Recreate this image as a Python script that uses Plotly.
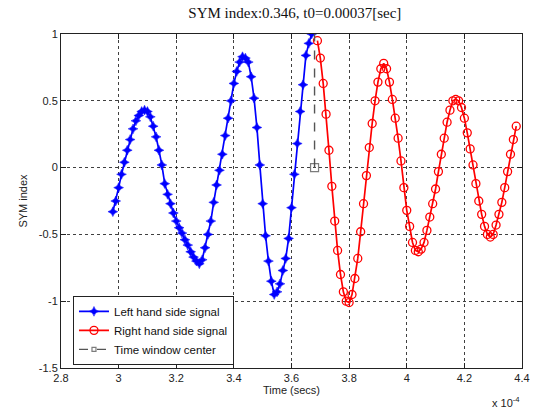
import plotly.graph_objects as go

# Time axis in units of 1e-4 s
left_t = [2.98, 2.99, 3.00, 3.01, 3.02, 3.03, 3.04, 3.05, 3.06, 3.07,
          3.08, 3.09, 3.10, 3.11, 3.12, 3.13, 3.14, 3.15, 3.16, 3.17,
          3.18, 3.19, 3.20, 3.21, 3.22, 3.23, 3.24, 3.25, 3.26, 3.27,
          3.28, 3.29, 3.30, 3.31, 3.32, 3.33, 3.34, 3.35, 3.36, 3.37,
          3.38, 3.39, 3.40, 3.41, 3.42, 3.43, 3.44, 3.45, 3.46, 3.47,
          3.48, 3.49, 3.50, 3.51, 3.52, 3.53, 3.54, 3.55, 3.56, 3.57,
          3.58, 3.59, 3.60, 3.61, 3.62, 3.63, 3.64, 3.65, 3.66, 3.67]
left_y = [-0.33, -0.25, -0.15, -0.05, 0.04, 0.13, 0.21, 0.29, 0.35, 0.39,
          0.42, 0.43, 0.42, 0.38, 0.31, 0.23, 0.13, 0.02, -0.12, -0.20,
          -0.27, -0.34, -0.40, -0.45, -0.49, -0.54, -0.58, -0.63, -0.67, -0.70,
          -0.72, -0.69, -0.60, -0.50, -0.40, -0.26, -0.13, -0.02, 0.10, 0.24,
          0.37, 0.50, 0.63, 0.72, 0.79, 0.83, 0.82, 0.79, 0.68, 0.52,
          0.30, 0.02, -0.27, -0.51, -0.70, -0.85, -0.95, -0.93, -0.87, -0.77,
          -0.68, -0.53, -0.30, -0.05, 0.18, 0.42, 0.62, 0.84, 0.93, 1.00]

right_t = [3.69, 3.70, 3.71, 3.72, 3.73, 3.74, 3.75, 3.76, 3.77, 3.78,
           3.79, 3.80, 3.81, 3.82, 3.83, 3.84, 3.85, 3.86, 3.87, 3.88,
           3.89, 3.90, 3.91, 3.92, 3.93, 3.94, 3.95, 3.96, 3.97, 3.98,
           3.99, 4.00, 4.01, 4.02, 4.03, 4.04, 4.05, 4.06, 4.07, 4.08,
           4.09, 4.10, 4.11, 4.12, 4.13, 4.14, 4.15, 4.16, 4.17, 4.18,
           4.19, 4.20, 4.21, 4.22, 4.23, 4.24, 4.25, 4.26, 4.27, 4.28,
           4.29, 4.30, 4.31, 4.32, 4.33, 4.34, 4.35, 4.36, 4.37, 4.38]
right_y = [0.95, 0.82, 0.63, 0.40, 0.13, -0.14, -0.40, -0.62, -0.80, -0.93,
           -1.00, -1.01, -0.95, -0.83, -0.68, -0.48, -0.27, -0.06, 0.15, 0.33,
           0.50, 0.64, 0.74, 0.78, 0.74, 0.64, 0.51, 0.37, 0.22, 0.05,
           -0.15, -0.32, -0.44, -0.56, -0.62, -0.63, -0.61, -0.56, -0.47, -0.37,
           -0.27, -0.16, -0.03, 0.10, 0.22, 0.34, 0.43, 0.50, 0.51, 0.50,
           0.45, 0.37, 0.26, 0.14, 0.02, -0.12, -0.25, -0.35, -0.44, -0.50,
           -0.52, -0.50, -0.43, -0.35, -0.26, -0.15, -0.03, 0.10, 0.21, 0.31]

center_t = [3.68, 3.68]
center_y = [0.0, 1.0]

x_ticks = [2.8, 3.0, 3.2, 3.4, 3.6, 3.8, 4.0, 4.2, 4.4]
x_tick_labels = ["2.8", "3", "3.2", "3.4", "3.6", "3.8", "4", "4.2", "4.4"]
y_ticks = [-1.5, -1, -0.5, 0, 0.5, 1]
y_tick_labels = ["-1.5", "-1", "-0.5", "0", "0.5", "1"]

title_text = "SYM index:0.346, t0=0.00037[sec]"

fig = go.Figure()
fig.add_trace(go.Scatter(
    x=left_t, y=left_y, mode="lines+markers", name="Left hand side signal",
    line=dict(color="#0000FF", width=1.7),
    marker=dict(symbol="star-diamond", size=7, color="#0000FF",
                line=dict(color="#0000FF", width=0.5))))
fig.add_trace(go.Scatter(
    x=right_t, y=right_y, mode="lines+markers", name="Right hand side signal",
    line=dict(color="#FF0000", width=1.7),
    marker=dict(symbol="circle-open", size=8, color="#FF0000",
                line=dict(color="#FF0000", width=1.3))))
fig.add_trace(go.Scatter(
    x=center_t, y=center_y, mode="lines+markers", name="Time window center",
    line=dict(color="#555555", width=1.4, dash="dash"),
    marker=dict(symbol="square-open", size=[8, 0], color="#444444",
                line=dict(color="#444444", width=1.2))))

axis_common = dict(
    showline=True, linecolor="#222222", linewidth=1, mirror="ticks",
    ticks="inside", ticklen=5, tickcolor="#222222",
    showgrid=True, gridcolor="rgba(0,0,0,0.75)", gridwidth=1, griddash="dot",
    zeroline=False,
    tickfont=dict(family="Liberation Sans, Arial", size=11, color="#222222"),
)

fig.update_layout(
    width=541, height=410,
    margin=dict(l=61, r=11, t=34, b=42),
    paper_bgcolor="white", plot_bgcolor="white",
    title=dict(text=title_text, x=0.545, xanchor="center", y=0.97, yanchor="middle",
               font=dict(family="Liberation Serif, Times New Roman", size=15, color="#111111")),
    xaxis=dict(range=[2.8, 4.4], tickvals=x_ticks, ticktext=x_tick_labels,
               title=dict(text="Time (secs)", standoff=2,
                          font=dict(family="Liberation Sans, Arial", size=11, color="#222222")),
               **axis_common),
    yaxis=dict(range=[-1.5, 1], tickvals=y_ticks, ticktext=y_tick_labels,
               title=dict(text="SYM index", standoff=8,
                          font=dict(family="Liberation Sans, Arial", size=11, color="#222222")),
               **axis_common),
    legend=dict(x=0.026, y=0.216, xanchor="left", yanchor="top",
                bgcolor="white", bordercolor="#222222", borderwidth=1,
                font=dict(family="Liberation Sans, Arial", size=11.5, color="#111111"),
                tracegroupgap=0, itemwidth=30),
    showlegend=True,
    annotations=[dict(text="x 10<sup>-4</sup>", xref="paper", yref="paper",
                      x=1.0, y=-0.075, xanchor="right", yanchor="top", showarrow=False,
                      font=dict(family="Liberation Sans, Arial", size=11, color="#222222"))],
)

fig.write_html("out.html")
